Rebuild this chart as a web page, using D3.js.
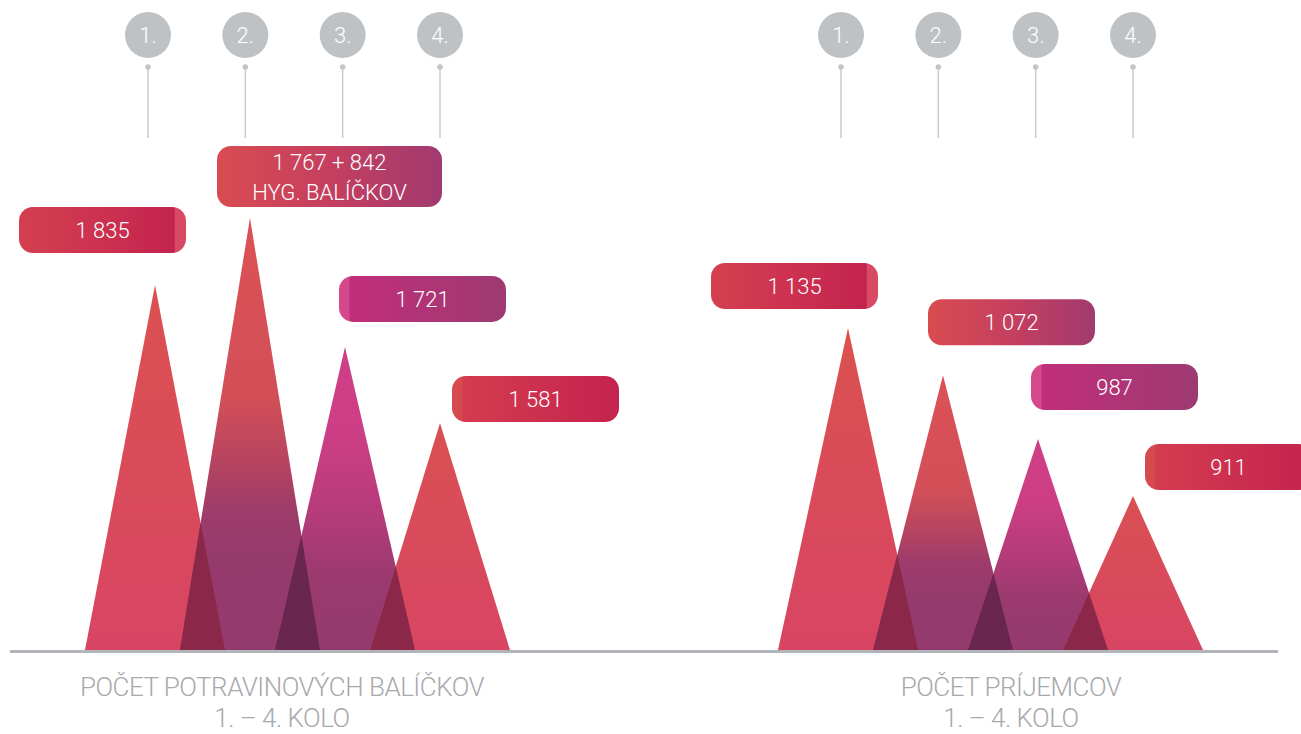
<!DOCTYPE html>
<html>
<head>
<meta charset="utf-8">
<script src="https://cdn.jsdelivr.net/npm/d3@7"></script>
<style>
body { margin: 0; background: #fff; }
svg text { font-family: Roboto, "Open Sans", sans-serif; font-weight: 300; }
</style>
</head>
<body>
<div id="chart"></div>
<script>
/* DATA */
var rounds = ["1.", "2.", "3.", "4."];
var foodPackages = [1835, 1767, 1721, 1581];
var hygienePackages = [0, 842, 0, 0];
var recipients = [1135, 1072, 987, 911];
var panelTitles = ["POČET POTRAVINOVÝCH BALÍČKOV", "POČET PRÍJEMCOV"];
var roundsCaption = "1. – 4. KOLO";
var hygieneCaption = "HYG. BALÍČKOV";

function chart(selector)
{
    var width = 1301;   /* width of the svg */
    var height = 734;   /* height of the svg */
    var baseY = 650;    /* y of the ground line */
    var halfBase = 70;  /* half of the base of a peak */

    var fmt = d3.formatLocale({decimal: ",", thousands: " ", grouping: [3], currency: ["", ""]}).format(",");

    /* Layout of the two panels */
    var panels = [
        {
            values: foodPackages.map(function (d, i) { return d + hygienePackages[i]; }),
            labels: foodPackages.map(function (d, i) {
                return hygienePackages[i] ? [fmt(d) + " + " + fmt(hygienePackages[i]), hygieneCaption] : [fmt(d)];
            }),
            x: d3.scalePoint().domain(rounds).range([155, 440]),
            marker: d3.scalePoint().domain(rounds).range([148, 440]),
            y: d3.scaleLinear().domain([1581, 1835, 2609]).range([423, 285, 218]),
            pillDx: [-136, -33, -6, 12],
            pillDy: [32, 11, 25, 1],
            title: panelTitles[0],
            titleX: 282
        },
        {
            values: recipients,
            labels: recipients.map(function (d) { return [fmt(d)]; }),
            x: d3.scalePoint().domain(rounds).range([848, 1133]),
            marker: d3.scalePoint().domain(rounds).range([841, 1133]),
            y: d3.scaleLinear().domain([911, 1135]).range([496, 328]),
            pillDx: [-137, -15, -7, 12],
            pillDy: [19, 30, 29, 6],
            title: panelTitles[1],
            titleX: 1011
        }
    ];

    /* Colours of peaks, overlaps and labels per round */
    var peakStops = [
        [[0, "#db5150"], [1, "#d84563"]],
        [[0, "#dc5155"], [0.42, "#d24f58"], [0.55, "#ba455f"], [0.68, "#9e3c6b"], [0.8, "#963a6e"], [1, "#933a6e"]],
        [[0, "#cf3f87"], [0.3, "#cc3e85"], [0.55, "#b53b7a"], [0.75, "#9c3a70"], [1, "#933a6e"]],
        [[0, "#da5052"], [1, "#d84563"]]
    ];
    var overlapColors = ["#8b2849", "#69264f", "#8b2849"];
    var pillStops = [
        [[0, "#d4404f"], [0.5, "#cc3150"], [0.93, "#c3234d"], [0.935, "#d84a63"], [1, "#d84a63"]],
        [[0, "#d84c50"], [0.5, "#c53f5f"], [1, "#a13a6f"]],
        [[0, "#d5488c"], [0.06, "#d5488c"], [0.065, "#c12e7b"], [1, "#9d3a72"]],
        [[0, "#d6494f"], [0.06, "#d6494f"], [0.065, "#d43c4f"], [1, "#c4234d"]]
    ];

    /* Create the svg element */
    var theSVG = d3.select(selector)
        .append("svg")
        .attr("width", width)
        .attr("height", height)
    ;

    var defs = theSVG.append("defs");

    peakStops.forEach(function (stops, i) {
        var g = defs.append("linearGradient")
            .attr("id", "peak" + i)
            .attr("x1", 0).attr("y1", 0).attr("x2", 0).attr("y2", 1);
        stops.forEach(function (s) {
            g.append("stop").attr("offset", s[0]).attr("stop-color", s[1]);
        });
    });

    pillStops.forEach(function (stops, i) {
        var g = defs.append("linearGradient")
            .attr("id", "pill" + i)
            .attr("x1", 0).attr("y1", 0).attr("x2", 1).attr("y2", 0);
        stops.forEach(function (s) {
            g.append("stop").attr("offset", s[0]).attr("stop-color", s[1]);
        });
    });

    /* Intersection of the lines p1-p2 and p3-p4 */
    var intersect = function (p1, p2, p3, p4) {
        var d = (p1[0] - p2[0]) * (p3[1] - p4[1]) - (p1[1] - p2[1]) * (p3[0] - p4[0]);
        var a = p1[0] * p2[1] - p1[1] * p2[0];
        var b = p3[0] * p4[1] - p3[1] * p4[0];
        return [
            (a * (p3[0] - p4[0]) - (p1[0] - p2[0]) * b) / d,
            (a * (p3[1] - p4[1]) - (p1[1] - p2[1]) * b) / d
        ];
    };

    panels.forEach(function (panel) {

        var g = theSVG.append("g");

        /* Round markers */
        var markers = g.selectAll("g.marker")
            .data(rounds)
            .enter()
            .append("g")
            .attr("class", "marker")
            .attr("transform", function (d) { return "translate(" + panel.marker(d) + ",0)"; })
        ;
        markers.append("line")
            .attr("y1", 67).attr("y2", 138)
            .attr("stroke", "#c9cbce")
            .attr("stroke-width", 1.5);
        markers.append("circle")
            .attr("cy", 67).attr("r", 2.8)
            .attr("fill", "#c3c6c9");
        markers.append("circle")
            .attr("cy", 35).attr("r", 23)
            .attr("fill", "#bfc2c5");
        markers.append("text")
            .attr("y", 43)
            .attr("text-anchor", "middle")
            .attr("fill", "#fff")
            .attr("font-size", 22)
            .text(function (d) { return d; });

        /* The peaks */
        var tris = rounds.map(function (r, i) {
            var cx = panel.x(r);
            return {
                apex: [cx, panel.y(panel.values[i])],
                left: [cx - halfBase, baseY],
                right: [cx + halfBase, baseY]
            };
        });

        g.selectAll("path.peak")
            .data(tris)
            .enter()
            .append("path")
            .attr("class", "peak")
            .attr("d", function (d) { return "M" + d.left + "L" + d.apex + "L" + d.right + "Z"; })
            .attr("fill", function (d, i) { return "url(#peak" + i + ")"; })
        ;

        /* Darker overlaps of neighbouring peaks */
        var overlaps = d3.range(tris.length - 1).map(function (i) {
            var a = tris[i], b = tris[i + 1];
            return [b.left, intersect(a.apex, a.right, b.apex, b.left), a.right];
        });

        g.selectAll("path.overlap")
            .data(overlaps)
            .enter()
            .append("path")
            .attr("class", "overlap")
            .attr("d", function (d) { return "M" + d.join("L") + "Z"; })
            .attr("fill", function (d, i) { return overlapColors[i]; })
        ;

        /* Value labels */
        var pills = g.selectAll("g.pill")
            .data(tris)
            .enter()
            .append("g")
            .attr("class", "pill")
        ;

        pills.each(function (d, i) {
            var p = d3.select(this);
            var lines = panel.labels[i];
            var h = lines.length > 1 ? 61 : 46;
            var txt = p.append("text")
                .attr("text-anchor", "middle")
                .attr("fill", "#fff")
                .attr("font-size", 22);
            lines.forEach(function (l, k) {
                txt.append("tspan").attr("x", 0).attr("y", k * 30).text(l);
            });
            var w = Math.max(167, txt.node().getBBox().width + 70);
            var x0 = d.apex[0] + panel.pillDx[i];
            var y0 = d.apex[1] - panel.pillDy[i] - h;
            p.insert("rect", "text")
                .attr("x", x0).attr("y", y0)
                .attr("width", w).attr("height", h)
                .attr("rx", 14)
                .attr("fill", "url(#pill" + i + ")");
            txt.attr("transform", "translate(" + (x0 + w / 2) + "," + (y0 + h / 2 + 8 - (lines.length - 1) * 15) + ")");
        });

        /* Panel title */
        var title = g.append("text")
            .attr("text-anchor", "middle")
            .attr("fill", "#a7a9ac")
            .attr("font-size", 26)
            .attr("letter-spacing", -0.5)
        ;
        title.append("tspan").attr("x", panel.titleX).attr("y", 696).text(panel.title);
        title.append("tspan").attr("x", panel.titleX).attr("y", 727).text(roundsCaption);
    });

    /* Ground line */
    theSVG.append("line")
        .attr("x1", 10).attr("x2", 1278)
        .attr("y1", baseY + 1.5).attr("y2", baseY + 1.5)
        .attr("stroke", "#b1b4b9")
        .attr("stroke-width", 3)
    ;
}

chart("#chart");
</script>
</body>
</html>
